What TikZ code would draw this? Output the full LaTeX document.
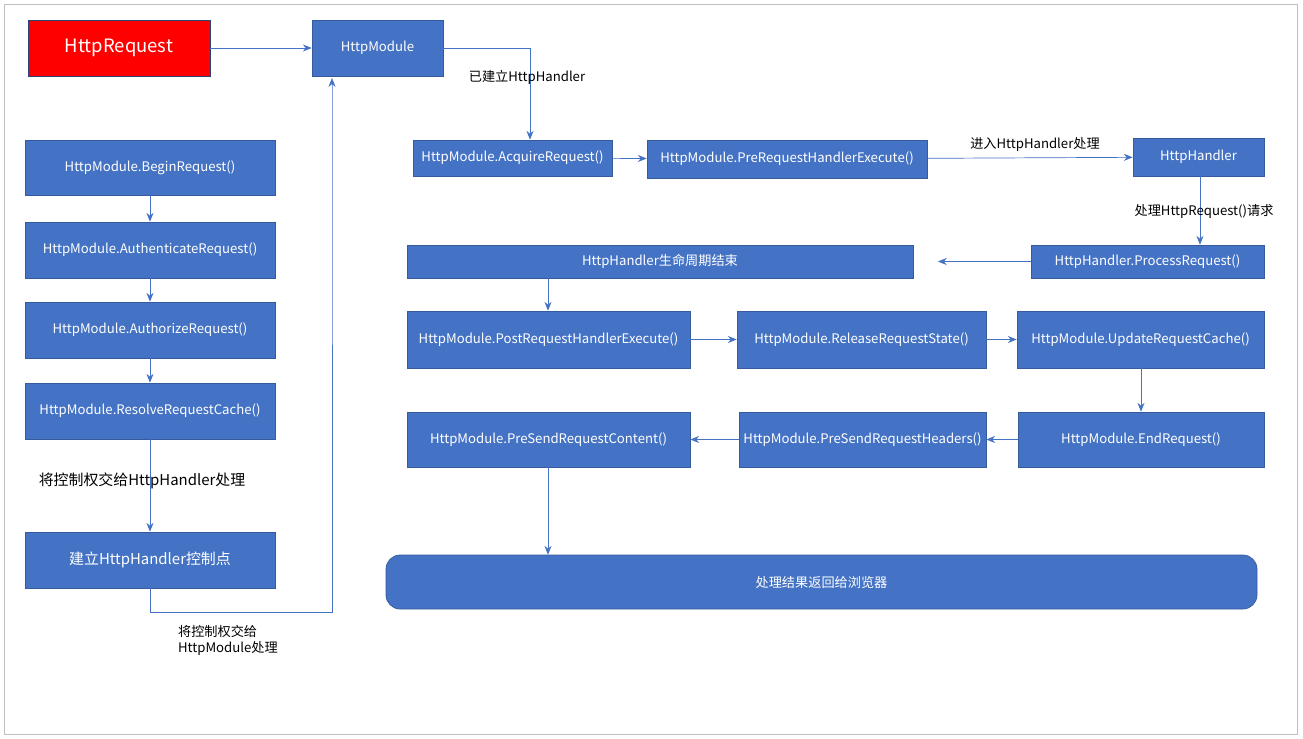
\documentclass[tikz,border=0pt]{standalone}
\usepackage{fontspec}
\setmainfont{Noto Sans CJK SC}
\usetikzlibrary{arrows.meta, positioning}
\definecolor{boxblue}{RGB}{68, 114, 196}
\tikzset{
  box/.style={draw=boxblue!80!black, fill=boxblue, text=white, font=\fontsize{7.5}{9}\selectfont, inner sep=0pt},
  link/.style={draw=boxblue, -{Stealth[length=5pt, width=4pt]}},
  note/.style={font=\fontsize{7.5}{9}\selectfont, inner sep=1pt}
}
\newcommand{\bx}[6]{%
  \node[box, minimum width=#4*0.02cm-#2*0.02cm, minimum height=#5*0.02cm-#3*0.02cm] (#1) at ({(#2+#4)/2}, {(#3+#5)/2}) {#6};}
\begin{document}
\begin{tikzpicture}[x=0.02cm, y=-0.02cm]
        % Frame
        \fill[white] (0,0) rectangle (1303,738);
        \draw[gray!50] (4,4) rectangle (1297,734);

        % Left column
        \node[draw=boxblue!60!black, fill=red, text=white, font=\fontsize{10.5}{12}\selectfont, minimum width=182*0.02cm, minimum height=56*0.02cm, inner sep=0pt] (req) at (119,48) {HttpRequest};
        \bx{module}{312}{20}{443}{76}{HttpModule}
        \bx{begin}{25}{140}{275}{195}{HttpModule.BeginRequest()}
        \bx{auth}{25}{222}{275}{278}{HttpModule.AuthenticateRequest()}
        \bx{authz}{25}{302}{275}{358}{HttpModule.AuthorizeRequest()}
        \bx{resolve}{25}{383}{275}{439}{HttpModule.ResolveRequestCache()}
        \bx{point}{25}{532}{275}{588}{\fontsize{8.5}{10}\selectfont 建立HttpHandler控制点}

        % Right part
        \bx{acquire}{413}{140}{612}{176}{HttpModule.AcquireRequest()}
        \bx{preexec}{647}{140}{927}{178}{HttpModule.PreRequestHandlerExecute()}
        \bx{handler}{1133}{138}{1264}{176}{HttpHandler}
        \bx{process}{1031}{245}{1264}{278}{HttpHandler.ProcessRequest()}
        \bx{lifeend}{407}{245}{913}{278}{HttpHandler生命周期结束}
        \bx{postexec}{407}{311}{690}{368}{HttpModule.PostRequestHandlerExecute()}
        \bx{release}{737}{311}{986}{368}{HttpModule.ReleaseRequestState()}
        \bx{update}{1017}{311}{1264}{368}{HttpModule.UpdateRequestCache()}
        \bx{endreq}{1018}{412}{1264}{467}{HttpModule.EndRequest()}
        \bx{headers}{739}{412}{986}{467}{HttpModule.PreSendRequestHeaders()}
        \bx{content}{407}{412}{690}{467}{HttpModule.PreSendRequestContent()}
        \node[box, rounded corners=8pt, minimum width=871*0.02cm, minimum height=54*0.02cm] (result) at (821.5,582) {处理结果返回给浏览器};

        % Connectors
        \draw[link] (req) -- (module);
        \draw[link] (begin) -- (auth);
        \draw[link] (auth) -- (authz);
        \draw[link] (authz) -- (resolve);
        \draw[link] (resolve) -- (point);
        \coordinate (back) at (332,83);
        \draw[link] (point.south) -- ++(0,24) -| (back) -- ([yshift=-1pt]module.south -| back);
        \draw[link] (module.east) -| (acquire.north -| 530,0);
        \draw[link] (acquire) -- (preexec);
        \draw[link] (preexec) -- (handler);
        \draw[link] (handler.south -| 1200,0) -- (process.north -| 1200,0);
        \draw[link] (process) -- ([xshift=14pt]lifeend.east);
        \draw[link] (lifeend.south -| 548,0) -- (postexec.north -| 548,0);
        \draw[link] (postexec) -- (release);
        \draw[link] (release) -- (update);
        \draw[link] (update.south -| 1141,0) -- (endreq.north -| 1141,0);
        \draw[link] (endreq) -- (headers);
        \draw[link] (headers) -- (content);
        \draw[link] (content.south -| 548,0) -- (result.north -| 548,0);

        % Labels
        \node[note, font=\fontsize{8.5}{10}\selectfont] (lbl1) at (142,481) {将控制权交给HttpHandler处理};
        \node[note, align=left, anchor=north west] (lbl2) at (176,623) {将控制权交给\\HttpModule处理};
        \node[note] (lbl3) at (527,77) {已建立HttpHandler};
        \node[note] (lbl4) at (1035,144) {进入HttpHandler处理};
        \node[note] (lbl5) at (1204,211) {处理HttpRequest()请求};
    \end{tikzpicture}
\end{document}
